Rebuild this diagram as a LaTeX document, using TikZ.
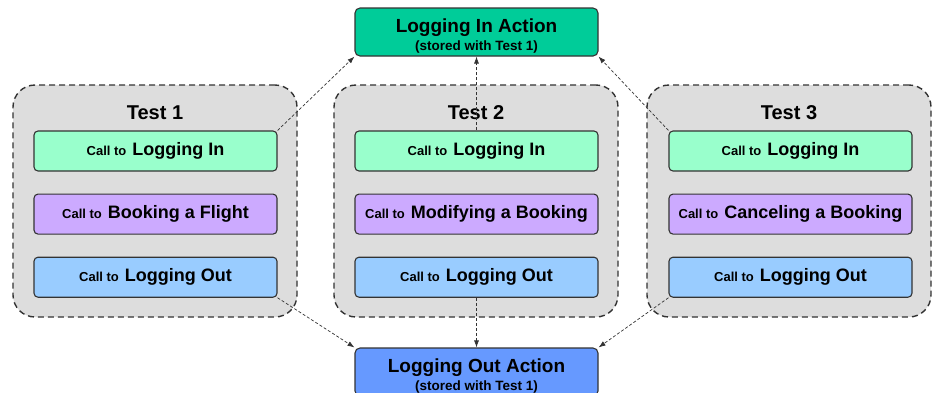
\documentclass[tikz,border=0pt]{standalone}
\usepackage{fontspec}
\setmainfont{Liberation Sans}
\usetikzlibrary{arrows.meta,positioning}
\definecolor{edge}{HTML}{333333}
\definecolor{panel}{HTML}{DDDDDD}
\definecolor{loginrow}{HTML}{99FFCC}
\definecolor{bookrow}{HTML}{CCAAFF}
\definecolor{logoutrow}{HTML}{99CCFF}
\definecolor{loginact}{HTML}{00CC99}
\definecolor{logoutact}{HTML}{6699FF}
\newcommand{\callto}[1]{{\fontsize{13}{14}\selectfont Call to}\hspace{6pt}{\fontsize{18}{20}\selectfont #1}}
\newcommand{\storedone}{{\fontsize{13.5}{15}\selectfont (stored with Test 1)}}
\tikzset{
  testpanel/.style={draw=edge,dashed,dash pattern=on 6pt off 4pt,line width=1.4pt,
                    rounded corners=22pt,fill=panel,minimum width=284pt,minimum height=232pt},
  paneltitle/.style={font=\fontsize{20}{22}\selectfont\bfseries},
  callbox/.style={draw=edge,line width=1.1pt,rounded corners=4pt,minimum width=243pt,
                  minimum height=40pt,inner sep=0pt,font=\bfseries},
  actbox/.style={draw=edge,line width=1.1pt,rounded corners=5pt,minimum width=243pt,
                 minimum height=48pt,align=center,inner sep=0pt,
                 font=\fontsize{19}{20}\selectfont\bfseries},
  link/.style={-{Latex[length=7pt,width=5pt]},dash pattern=on 3pt off 2pt,line width=0.7pt,draw=edge}
}
\begin{document}
\begin{tikzpicture}[x=1pt,y=-1pt]
\useasboundingbox (0,0) rectangle (932,392);
% shared actions
\node[actbox,fill=loginact] (inact) at (476.5,32) {\rule{0pt}{22pt}Logging In Action\\[-2pt]\storedone};
\node[actbox,fill=logoutact] (outact) at (476.5,372) {\rule{0pt}{22pt}Logging Out Action\\[-2pt]\storedone};
% test panels
\node[testpanel] (test1) at (155,201) {};
\node[testpanel] (test2) at (476,201) {};
\node[testpanel] (test3) at (789,201) {};
\node[paneltitle] at (155,113) {Test 1};
\node[paneltitle] at (476,113) {Test 2};
\node[paneltitle] at (789,113) {Test 3};
% calls
\node[callbox,fill=loginrow] (in1) at (155.5,151) {\callto{Logging In}};
\node[callbox,fill=bookrow,below=22pt of in1] (book1) {\callto{Booking a Flight}};
\node[callbox,fill=logoutrow,below=22pt of book1] (out1) {\callto{Logging Out}};
\node[callbox,fill=loginrow] (in2) at (476.5,151) {\callto{Logging In}};
\node[callbox,fill=bookrow,below=22pt of in2] (book2) {\callto{Modifying a Booking}};
\node[callbox,fill=logoutrow,below=22pt of book2] (out2) {\callto{Logging Out}};
\node[callbox,fill=loginrow] (in3) at (790.5,151) {\callto{Logging In}};
\node[callbox,fill=bookrow,below=22pt of in3] (book3) {\callto{Canceling a Booking}};
\node[callbox,fill=logoutrow,below=22pt of book3] (out3) {\callto{Logging Out}};
% links to the shared actions
\draw[link] (in1.north east) -- (inact.south west);
\draw[link] (in2.north) -- (inact.south);
\draw[link] (in3.north west) -- (inact.south east);
\draw[link] (out1.south east) -- (outact.north west);
\draw[link] (out2.south) -- (outact.north);
\draw[link] (out3.south west) -- (outact.north east);
\end{tikzpicture}
\end{document}
